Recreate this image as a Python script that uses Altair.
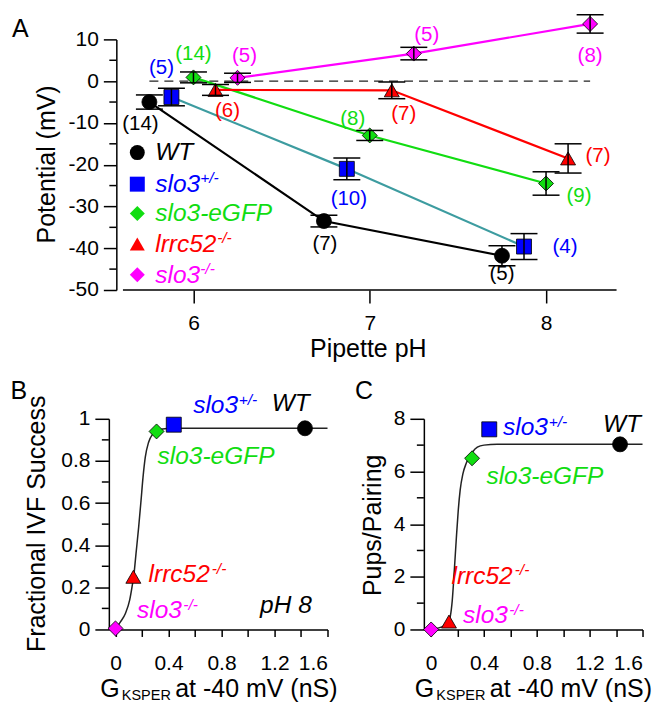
import altair as alt
import pandas as pd

FONT = "Liberation Sans"

# ---------------- shared genotype styling ----------------
genotypes = ["WT", "slo3+/-", "slo3-eGFP", "lrrc52-/-", "slo3-/-"]
line_colors = ["#000000", "#3d9ca0", "#11dd11", "#ff0000", "#ff00ff"]
fill_colors = ["#000000", "#0000ff", "#11dd11", "#ff0000", "#ff00ff"]
shapes = ["circle", "square", "diamond", "triangle-up", "diamond"]
sizes_a = [225, 225, 196, 196, 196]
sizes_bc = [361, 210, 256, 225, 225]

# ---------------- Panel A data (membrane potential vs pipette pH) ----------------
wt_ph = [5.75, 6.74, 7.75]
wt_mv = [-5.0, -33.5, -41.8]
wt_err = [1.7, 1.4, 2.4]
wt_n = [14, 7, 5]

het_ph = [5.875, 6.87, 7.875]
het_mv = [-3.8, -21.0, -39.6]
het_err = [2.1, 2.6, 3.1]
het_n = [5, 10, 4]

gfp_ph = [6.0, 7.0, 8.0]
gfp_mv = [0.9, -13.0, -24.5]
gfp_err = [1.3, 1.2, 2.8]
gfp_n = [14, 8, 9]

lrrc_ph = [6.125, 7.125, 8.125]
lrrc_mv = [-2.1, -2.2, -18.5]
lrrc_err = [1.3, 2.0, 3.5]
lrrc_n = [6, 7, 7]

ko_ph = [6.25, 7.25, 8.25]
ko_mv = [0.8, 6.6, 13.7]
ko_err = [1.1, 1.5, 2.2]
ko_n = [5, 5, 8]

# n-label placement offsets (pixels, style only)
label_dx = [[-9, 1, 0], [-10, 2, 41], [0, -17, 33], [12, 12, 30], [7, 13, 0]]
label_dy = [[22, 23, 18], [-29, 30, 0], [-23, -16, 13], [21, 24, -2], [-22, -19, 32]]

# ---------------- Panels B / C data ----------------
g_ksper = [1.43, 0.44, 0.31, 0.135, 0.0]
ivf_success = [0.955, 0.972, 0.94, 0.25, 0.005]
pups_per_pairing = [7.03, 7.6, 6.5, 0.3, 0.0]

fit_b_g = [0.0, 0.0375, 0.075, 0.107, 0.125, 0.14, 0.155, 0.175, 0.193, 0.208, 0.225, 0.25, 0.283, 0.325, 0.39, 0.5, 1.6]
fit_b_y = [0.0, 0.036, 0.076, 0.139, 0.202, 0.265, 0.36, 0.486, 0.613, 0.723, 0.818, 0.889, 0.929, 0.948, 0.954, 0.955, 0.955]

fit_c_g = [0.0, 0.05, 0.09, 0.125, 0.145, 0.16, 0.175, 0.19, 0.205, 0.22, 0.24, 0.265, 0.29, 0.315, 0.35, 0.4, 0.5, 1.6]
fit_c_y = [0.0, 0.05, 0.12, 0.25, 0.5, 1.1, 2.2, 3.4, 4.5, 5.3, 5.9, 6.3, 6.55, 6.75, 6.92, 7.0, 7.03, 7.03]

# axis tick values
a_y_major = [-50, -40, -30, -20, -10, 0, 10]
a_y_minor = [-45, -35, -25, -15, -5, 5]
a_x_major = [6, 7, 8]
bc_x_ticks = [0, 0.2, 0.4, 0.6, 0.8, 1.0, 1.2, 1.4, 1.6]
b_y_major = [0, 0.2, 0.4, 0.6, 0.8, 1.0]
b_y_minor = [0.1, 0.3, 0.5, 0.7, 0.9]
c_y_major = [0, 2, 4, 6, 8]
c_y_minor = [1, 3, 5, 7]

# ---------------- layout constants ----------------
PH_DOMAIN = [5.52, 8.4]
MV_DOMAIN = [-50, 10]
A_W, A_H = 508.5, 251
PX_PH = A_W / (PH_DOMAIN[1] - PH_DOMAIN[0])
PX_MV = A_H / (MV_DOMAIN[1] - MV_DOMAIN[0])
B_DOMAIN = [-0.05, 1.6]
C_DOMAIN = [-0.055, 1.6]
BC_W, BC_H = 219, 211

BLACK = "#000000"
BLUE, GREEN, RED, MAG = fill_colors[1], fill_colors[2], fill_colors[3], fill_colors[4]

fill_scale = alt.Scale(domain=genotypes, range=fill_colors)
stroke_scale = alt.Scale(domain=genotypes, range=line_colors)
shape_scale = alt.Scale(domain=genotypes, range=shapes)


def tdf(items):
    return pd.DataFrame(items, columns=["t", "px", "py", "c"])


def txt(items, size, italic=False, align="left", angle=None):
    mk = dict(font=FONT, fontSize=size, align=align, baseline="alphabetic",
              fontStyle="italic" if italic else "normal")
    if angle is not None:
        mk["angle"] = angle
    return alt.Chart(tdf(items)).mark_text(**mk).encode(
        x=alt.X("px:Q", scale=None, axis=None),
        y=alt.Y("py:Q", scale=None, axis=None),
        text=alt.Text("t:N"),
        color=alt.Color("c:N", scale=None, legend=None),
    )


# ================= Panel A =================
series = [
    (wt_ph, wt_mv, wt_err, wt_n),
    (het_ph, het_mv, het_err, het_n),
    (gfp_ph, gfp_mv, gfp_err, gfp_n),
    (lrrc_ph, lrrc_mv, lrrc_err, lrrc_n),
    (ko_ph, ko_mv, ko_err, ko_n),
]
rows = []
for gi, (phs, mvs, errs, ns) in enumerate(series):
    for j in range(len(phs)):
        rows.append(dict(
            g=genotypes[gi], ph=phs[j], mv=mvs[j],
            lo=mvs[j] - errs[j], hi=mvs[j] + errs[j], n=f"({ns[j]})",
            lx=phs[j] + label_dx[gi][j] / PX_PH,
            ly=mvs[j] - label_dy[gi][j] / PX_MV,
        ))
df_a = pd.DataFrame(rows)


def xa(field):
    return alt.X(field, type="quantitative",
                 scale=alt.Scale(domain=PH_DOMAIN, nice=False, zero=False),
                 axis=alt.Axis(values=a_x_major, tickSize=13, labelPadding=10, domain=False,
                               title=None, grid=False, labelExpr="'' + datum.value"))


def ya(field):
    return alt.Y(field, type="quantitative",
                 scale=alt.Scale(domain=MV_DOMAIN, nice=False, zero=False),
                 axis=alt.Axis(values=a_y_major, tickSize=13, labelPadding=5, offset=-7.5,
                               title=None, grid=False, labelExpr="'' + datum.value"))


base_a = alt.Chart(df_a)
a_xline = alt.Chart(pd.DataFrame({"x0": [5.6], "x1": [8.4], "y": [-50]})).mark_rule(
    color=BLACK, strokeWidth=1.5).encode(x=xa("x0"), x2="x1", y=ya("y"))
a_zero = alt.Chart(pd.DataFrame({"ph": [5.75, 8.25], "mv": [0, 0]})).mark_line(
    color="#222222", strokeWidth=1.3, strokeDash=[9, 6]).encode(x=xa("ph"), y=ya("mv"))
a_minor = alt.Chart(pd.DataFrame({"v": a_y_minor})).mark_rule(
    color=BLACK, strokeWidth=1.5).encode(y=ya("v"), x=alt.value(0.5), x2=alt.value(7.5))
a_lines = base_a.mark_line(strokeWidth=2.2).encode(
    x=xa("ph"), y=ya("mv"), detail="g:N", order="ph:Q",
    stroke=alt.Stroke("g:N", scale=stroke_scale, legend=None))
a_pts = base_a.mark_point(filled=True, opacity=1, stroke=BLACK, strokeWidth=0.8).encode(
    x=xa("ph"), y=ya("mv"),
    shape=alt.Shape("g:N", scale=shape_scale, legend=None),
    fill=alt.Fill("g:N", scale=fill_scale, legend=None),
    size=alt.Size("g:O", scale=alt.Scale(domain=genotypes, range=sizes_a), legend=None))
a_err = base_a.mark_rule(color=BLACK, strokeWidth=1.5).encode(x=xa("ph"), y=ya("lo"), y2="hi:Q")
a_cap_lo = base_a.mark_tick(orient="horizontal", size=27, thickness=1.5, color=BLACK, opacity=1).encode(
    x=xa("ph"), y=ya("lo"))
a_cap_hi = base_a.mark_tick(orient="horizontal", size=27, thickness=1.5, color=BLACK, opacity=1).encode(
    x=xa("ph"), y=ya("hi"))
a_counts = base_a.mark_text(font=FONT, fontSize=20.5, align="center", baseline="middle").encode(
    x=xa("lx"), y=ya("ly"), text="n:N",
    fill=alt.Fill("g:N", scale=fill_scale, legend=None))

# in-plot legend
legend_main = ["WT", "slo3", "slo3-eGFP", "lrrc52", "slo3"]
legend_sup = ["", "+/-", "", "-/-", "-/-"]
legend_marker_y = [113.4, 145.0, 174.4, 205.0, 235.7]
legend_sup_x = [0, 91.5, 0, 108.5, 91.5]
df_leg = pd.DataFrame({"g": genotypes, "px": [28.5] * 5, "py": legend_marker_y})
a_leg_pts = alt.Chart(df_leg).mark_point(filled=True, opacity=1, strokeWidth=0).encode(
    x=alt.X("px:Q", scale=None, axis=None), y=alt.Y("py:Q", scale=None, axis=None),
    shape=alt.Shape("g:N", scale=shape_scale, legend=None),
    fill=alt.Fill("g:N", scale=fill_scale, legend=None),
    size=alt.Size("g:O", scale=alt.Scale(domain=genotypes, range=sizes_a), legend=None))
a_leg_main = txt([(legend_main[i], 46.5, legend_marker_y[i] + 7.9, fill_colors[i]) for i in range(5)],
                 24.5, italic=True)
a_leg_sup = txt([(legend_sup[i], legend_sup_x[i], legend_marker_y[i] - 0.8, fill_colors[i])
                 for i in range(5) if legend_sup[i]], 15.5, italic=True)
a_titles = txt([("A", -97, -2.6, BLACK), ("Pipette pH", 201.5, 318.5, BLACK)], 25)
a_ytitle = txt([("Potential (mV)", -53.5, 125.2, BLACK)], 25, align="center", angle=270)

panel_a = alt.layer(
    a_xline, a_zero, a_minor, a_lines, a_pts, a_err, a_cap_lo, a_cap_hi, a_counts,
    a_leg_pts, a_leg_main, a_leg_sup, a_titles, a_ytitle,
).properties(width=A_W, height=A_H)


# ================= Panels B and C =================
def bc_panel(yvals, fit_g, fit_y, xdom, ydom, y_major, y_minor, letter, ytitle, ytitle_x, annot, sups, gx):
    df = pd.DataFrame({"g": genotypes, "x": g_ksper, "y": yvals})
    df_fit = pd.DataFrame({"x": fit_g, "y": fit_y})

    def xb(field):
        return alt.X(field, type="quantitative", scale=alt.Scale(domain=xdom, nice=False, zero=False),
                     axis=alt.Axis(values=bc_x_ticks, tickSize=7, labelPadding=16.5, title=None, grid=False,
                                   labelExpr="round(datum.value*10) % 4 == 0 ? '' + datum.value : ''"))

    def yb(field):
        return alt.Y(field, type="quantitative", scale=alt.Scale(domain=ydom, nice=False, zero=False),
                     axis=alt.Axis(values=y_major, tickSize=14, labelPadding=5, title=None, grid=False,
                                   labelExpr="'' + datum.value"))

    minor = alt.Chart(pd.DataFrame({"v": y_minor})).mark_rule(color=BLACK, strokeWidth=1.5).encode(
        y=yb("v"), x=alt.value(-7), x2=alt.value(0))
    fit = alt.Chart(df_fit).mark_line(color="#222222", strokeWidth=1.5, interpolate="monotone").encode(
        x=xb("x"), y=yb("y"), order="x:Q")
    pts = alt.Chart(df).mark_point(filled=True, opacity=1, stroke=BLACK, strokeWidth=0.8).encode(
        x=xb("x"), y=yb("y"),
        shape=alt.Shape("g:N", scale=shape_scale, legend=None),
        fill=alt.Fill("g:N", scale=fill_scale, legend=None),
        size=alt.Size("g:O", scale=alt.Scale(domain=genotypes, range=sizes_bc), legend=None))
    titles = txt([(letter[0], letter[1], -20, BLACK), ("G", gx, 278.5, BLACK),
                  ("at -40 mV (nS)", gx + 75, 278.5, BLACK)], 25)
    sub = txt([("KSPER", gx + 21.5, 281.5, BLACK)], 14.5)
    yt = txt([(ytitle, ytitle_x[0], ytitle_x[1], BLACK)], 25, align="center", angle=270)
    ann = txt(annot, 24.5, italic=True)
    sup = txt(sups, 15.5, italic=True)
    return alt.layer(minor, fit, pts, titles, sub, yt, ann, sup).properties(width=BC_W, height=BC_H)


panel_b = bc_panel(
    ivf_success, fit_b_g, fit_b_y, B_DOMAIN, [0, 1], b_y_major, b_y_minor,
    ("B", -98.5), "Fractional IVF Success", (-63.5, 105.2),
    [("slo3", 84.5, -5.6, BLUE), ("WT", 163.2, -8.3, BLACK), ("slo3-eGFP", 48.8, 45, GREEN),
     ("lrrc52", 39.8, 163.4, RED), ("slo3", 28.2, 200, MAG), ("pH 8", 151.5, 195, BLACK)],
    [("+/-", 130, -14, BLUE), ("-/-", 103, 155, RED), ("-/-", 74.5, 191.7, MAG)],
    -8.5,
)
panel_c = bc_panel(
    pups_per_pairing, fit_c_g, fit_c_y, C_DOMAIN, [0, 8], c_y_major, c_y_minor,
    ("C", -69), "Pups/Pairing", (-43, 106.7),
    [("slo3", 79.3, 16.7, BLUE), ("WT", 179.3, 13.4, BLACK), ("slo3-eGFP", 62.7, 65, GREEN),
     ("lrrc52", 27.7, 165, RED), ("slo3", 39.3, 205, MAG)],
    [("+/-", 125, 8, BLUE), ("-/-", 91, 156.5, RED), ("-/-", 85.5, 196.5, MAG)],
    -9,
)

bottom = alt.hconcat(panel_b, panel_c, spacing=96.5, bounds="flush")
chart = alt.vconcat(panel_a, bottom, spacing=129, bounds="flush").properties(
    padding={"left": 2, "top": 4.9, "right": 0, "bottom": 0}
).configure_view(stroke=None).configure_axis(
    labelFont=FONT, labelFontSize=21, labelColor=BLACK, tickColor=BLACK, domainColor=BLACK,
    tickWidth=1.5, domainWidth=1.5, grid=False,
)

chart.save("out.html", embed_options={"renderer": "svg", "actions": False})
